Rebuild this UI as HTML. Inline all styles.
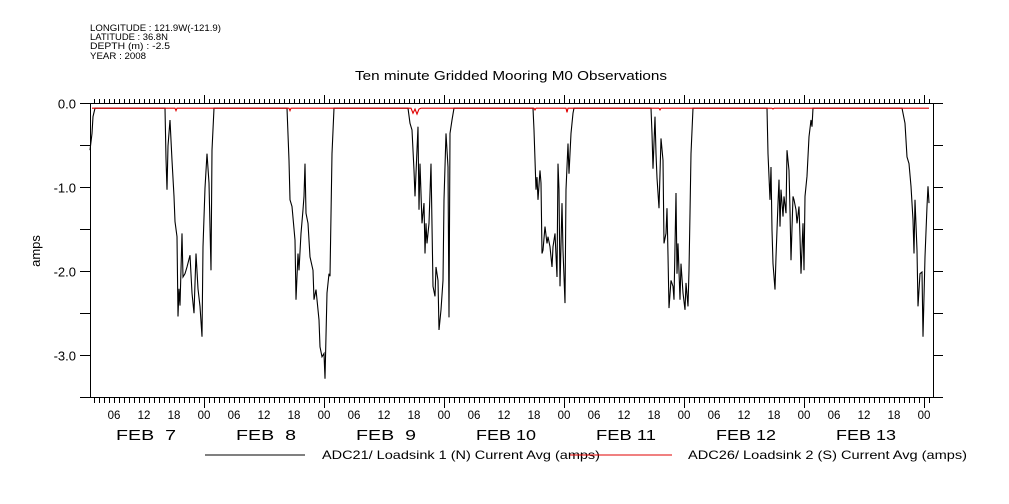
<!DOCTYPE html>
<html><head><meta charset="utf-8"><style>
html,body{margin:0;padding:0;background:#fff;}
svg{display:block;font-family:"Liberation Sans",sans-serif;}
</style></head><body>
<svg id="chart" width="1009" height="504" viewBox="0 0 1009 504" xmlns="http://www.w3.org/2000/svg">
<g font-size="9" fill="#000">
<text x="90" y="31" textLength="131" lengthAdjust="spacingAndGlyphs">LONGITUDE : 121.9W(-121.9)</text>
<text x="90" y="40" textLength="78" lengthAdjust="spacingAndGlyphs">LATITUDE : 36.8N</text>
<text x="90" y="49" textLength="80" lengthAdjust="spacingAndGlyphs">DEPTH (m) : -2.5</text>
<text x="90" y="59" textLength="56" lengthAdjust="spacingAndGlyphs">YEAR : 2008</text>
</g>
<text x="355" y="80" font-size="12.5" textLength="312" lengthAdjust="spacingAndGlyphs">Ten minute Gridded Mooring M0 Observations</text>
<text transform="translate(40,251) rotate(-90)" font-size="13" text-anchor="middle">amps</text>
<g id="axes"></g>
<g id="series"></g>
<g>
<g>
<line x1="205" y1="455" x2="305" y2="455" stroke="#000" stroke-width="1"/>
<text x="322" y="459" font-size="12" textLength="278" lengthAdjust="spacingAndGlyphs">ADC21/ Loadsink 1 (N) Current Avg (amps)</text>
</g>
<g>
<line x1="570" y1="455" x2="672" y2="455" stroke="#e00000" stroke-width="1"/>
<text x="688" y="459" font-size="12" textLength="279" lengthAdjust="spacingAndGlyphs">ADC26/ Loadsink 2 (S) Current Avg (amps)</text>
</g>
</g>
</svg>
<script>
// time in hours since FEB 7 00:00
const blackT = [1.2,1.6,1.8,2.2,
16.2,16.4,16.6,16.8,17.2,17.6,18,18.2,18.6,18.8,19,19.2,19.6,19.8,20.2,20.6,21.2,21.6,22,22.4,22.8,23.2,23.6,23.8,24.2,24.6,25,25.4,25.6,26,
40.6,41,41.2,41.6,42.2,42.4,42.8,43,43.4,43.8,44,44.2,44.4,44.8,45.2,45.8,46,46.4,47,47.2,47.6,48,48.2,48.6,49,49.2,49.6,50,
64.8,65.2,65.6,66,66.2,66.8,67,67.2,67.6,68,68.2,68.4,68.6,69,69.2,69.4,69.8,70.2,70.4,70.8,71,71.4,71.8,72,72.4,72.8,73,73.2,73.6,74,
89.8,90,90.4,90.6,90.8,91.2,91.4,91.6,91.8,92.2,92.6,92.8,93.2,93.6,93.8,94.2,94.6,94.8,95,95.2,95.6,95.8,96.2,96.4,96.8,97,97.4,97.8,98,
113.4,113.6,113.8,114.2,114.4,114.6,115,115.4,115.8,116,116.4,116.6,116.8,117,117.4,117.8,118,118.4,118.6,118.8,119.2,119.4,119.8,120.2,120.4,120.8,121,121.2,121.4,121.8,
136.6,136.8,137.2,137.4,137.6,137.8,138.2,138.4,138.8,139,139.2,139.4,139.8,140,140.4,140.6,141,141.2,141.4,141.8,142,142.4,142.6,143,143.2,143.4,143.8,144,144.2,144.6,145,145.4,145.6,145.8,
163.6,164.2,164.6,165,165.4,165.8,166,166.2,166.6,166.8,167.2,167.6,167.8,168.2,168.6,168.8,169];
const blackV = [-0.55,-0.35,-0.15,-0.05,
-0.05,-0.65,-1.02,-0.5,-0.19,-0.67,-1.1,-1.4,-1.58,-2.53,-2.2,-2.4,-1.54,-2.06,-2.02,-1.94,-1.8,-2.25,-2.49,-1.78,-2.2,-2.41,-2.77,-1.7,-1.0,-0.59,-0.94,-1.98,-0.55,-0.05,
-0.05,-0.67,-1.14,-1.22,-1.62,-2.33,-1.78,-1.98,-1.54,-1.26,-1.1,-0.71,-1.3,-1.42,-1.82,-1.98,-2.33,-2.21,-2.57,-2.89,-3.01,-2.97,-3.27,-2.25,-2.02,-2.05,-0.59,-0.05,
-0.05,-0.23,-0.31,-0.79,-1.1,-0.27,-1.26,-0.71,-1.42,-1.18,-1.78,-1.42,-1.66,-1.42,-1.06,-0.71,-2.17,-2.29,-1.94,-2.1,-2.69,-2.45,-2.1,-1.14,-0.35,-0.75,-2.54,-0.35,-0.19,-0.05,
-0.05,-0.31,-1.02,-0.87,-1.14,-0.79,-0.94,-1.78,-1.74,-1.46,-1.66,-1.58,-1.7,-1.94,-1.7,-1.54,-2.06,-0.71,-1.02,-2.17,-1.18,-1.74,-2.37,-1.02,-0.47,-0.83,-0.35,-0.11,-0.05,
-0.05,-0.35,-0.77,-0.15,-0.59,-0.88,-1.24,-0.41,-0.67,-1.66,-1.54,-1.24,-1.8,-2.43,-2.1,-2.17,-2.33,-1.06,-2.02,-1.66,-2.33,-1.9,-2.25,-2.45,-2.13,-2.41,-1.98,-1.3,-0.59,-0.05,
-0.05,-0.59,-1.14,-0.75,-1.5,-1.9,-2.21,-1.82,-1.18,-0.9,-1.46,-1.02,-1.34,-1.1,-1.3,-0.55,-0.79,-1.26,-1.86,-1.1,-1.14,-1.26,-1.42,-1.22,-1.58,-2.02,-1.42,-1.98,-1.1,-0.86,-0.39,-0.19,-0.27,-0.05,
-0.05,-0.23,-0.63,-0.71,-0.98,-1.38,-1.78,-1.14,-1.74,-2.41,-2.02,-2.0,-2.77,-1.82,-1.22,-0.98,-1.18];
const redT = [1.6,18.2,18.4,18.6,41,41.2,41.4,65.4,65.8,66.2,66.6,67,67.4,90,90.2,90.4,96.4,96.6,96.8,115,115.2,115.4,137.6,137.8,138,169];
const redV = [-0.05,-0.05,-0.08,-0.05,-0.05,-0.08,-0.05,-0.05,-0.11,-0.06,-0.12,-0.06,-0.05,-0.05,-0.07,-0.05,-0.05,-0.1,-0.05,-0.05,-0.07,-0.05,-0.05,-0.06,-0.05,-0.05];
const yTicks = [0,-0.5,-1,-1.5,-2,-2.5,-3,-3.5];
const yTickLabels = ["0.0","","-1.0","","-2.0","","-3.0",""];
const hourLabels = ["06","12","18","00"];
const dayLabels = ["FEB  7","FEB  8","FEB  9","FEB 10","FEB 11","FEB 12","FEB 13"];

const X0=90, X1=933, Y0=104, Y1=398;
const xs = t => 84 + 5*t;
const ys = v => Y0 - 84*v;
const NS="http://www.w3.org/2000/svg";
function mk(tag, attrs, parent){const e=document.createElementNS(NS,tag);for(const k in attrs)e.setAttribute(k,attrs[k]);parent.appendChild(e);return e;}
const axes=document.getElementById('axes');
const frame=mk('rect',{x:X0+0.5,y:Y0-0.5,width:X1-X0,height:Y1-Y0,fill:'none',stroke:'#000','stroke-width':1},axes);


yTicks.forEach((v,i)=>{
  const y=ys(v)-0.5;
  const l=mk('line',{x1:X0-10,y1:y,x2:X0,y2:y,stroke:'#000'},axes);
  
  
  const r=mk('line',{x1:X1,y1:y,x2:X1+10,y2:y,stroke:'#000'},axes);
  
  
  if(yTickLabels[i]){
    const t=mk('text',{x:X0-14,y:y+5,'font-size':13,'text-anchor':'end'},axes);
    t.textContent=yTickLabels[i];
    
    
  }
});
for(let h=2;h<=169;h++){
  const x=xs(h)+0.5; if(x<X0||x>X1) continue;
  const major=(h%24===0);
  const a=mk('line',{x1:x,y1:Y0,x2:x,y2:Y0-(major?9:5),stroke:'#000'},axes);
  
  
  const b=mk('line',{x1:x,y1:Y1,x2:x,y2:Y1+(major?10:5),stroke:'#000'},axes);
  
  
}
for(let h=6;h<=168;h+=6){
  const t=mk('text',{x:xs(h),y:419,'font-size':11.5,'text-anchor':'middle'},axes);
  t.textContent=hourLabels[(h/6-1)%4];
  
  
}
dayLabels.forEach((d,i)=>{
  const t=mk('text',{x:xs(12+24*i)-28,y:440,'font-size':15,textLength:60,lengthAdjust:'spacingAndGlyphs'},axes);
  t.setAttribute('style','white-space:pre');
  t.textContent=d;
  
  
});
const series=document.getElementById('series');
function path(T,V,color,name){
  const d=T.map((t,i)=>(i?'L':'M')+xs(t).toFixed(1)+','+ys(V[i]).toFixed(1)).join('');
  const p=mk('path',{d:d,fill:'none',stroke:color,'stroke-width':1.1},series);
  
  
}
path(blackT,blackV,'#000','line-adc21');
path(redT,redV,'#e00000','line-adc26');
</script>
</body></html>
